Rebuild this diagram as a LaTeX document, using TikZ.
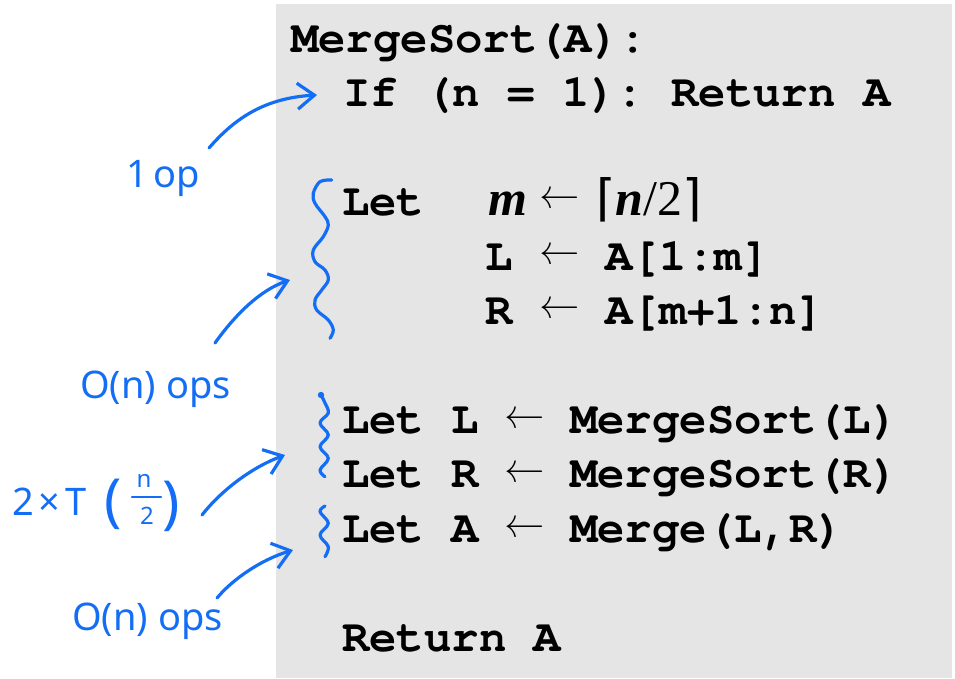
\documentclass[tikz,border=0pt]{standalone}
\usepackage{fontspec}
\newfontfamily\handfont{Noto Sans}
\newfontfamily\dejavu{DejaVu Sans}
\newfontfamily\tnr{Liberation Serif}
\IfFontExistsTF{TeX Gyre Cursor}{\newfontfamily\codeff{TeX Gyre Cursor}}{\newfontfamily\codeff{Liberation Mono}}
\usetikzlibrary{arrows.meta}
\definecolor{handblue}{RGB}{20,110,245}
\definecolor{codebg}{RGB}{229,229,229}
\newcommand\codefont{\frenchspacing\codeff\bfseries\fontsize{45.6}{50}\selectfont}
\newcommand\smallhand{\handfont\fontsize{24}{24}\selectfont}
\begin{document}
\begin{tikzpicture}[x=1pt,y=-1pt,
  code/.style={anchor=base west, inner sep=0pt, font=\codefont},
  arr/.style={anchor=base west, inner sep=0pt, font=\fontsize{43}{43}\selectfont},
  mth/.style={anchor=base west, inner sep=0pt, font=\tnr\fontsize{50}{50}\selectfont},
  hand/.style={anchor=base west, inner sep=0pt, text=handblue, font=\handfont\fontsize{38}{38}\selectfont},
  paren/.style={anchor=base west, inner sep=0pt, text=handblue, font=\handfont\fontsize{58}{58}\selectfont},
  frac/.style={anchor=center, inner sep=0pt, text=handblue, font=\smallhand},
  stroke/.style={draw=handblue, line width=3.2pt, line cap=round, line join=round},
  pointer/.style={stroke, -{Straight Barb[length=17pt,width=26pt]}}
]
\useasboundingbox (0,0) rectangle (955,678);
\fill[codebg] (276,4) rectangle (952,678);

% code
\node[code] (l0) at (291,52) {MergeSort(A):};
\node[code] (l1) at (343,106.5) {If (n = 1): Return A};
\node[code] (l3) at (342,215) {Let};
\node[mth] (m) at (488,215) {\bfseries\itshape m};
\node[arr] (a3) at (539,208) {←};
\node[mth] (ceil) at (596,215) {{\dejavu ⌈}{\bfseries\itshape n}/2{\dejavu ⌉}};
\node[code] (l4a) at (485,270) {L};
\node[arr] (a4) at (539,264) {←};
\node[code] (l4b) at (605,270) {A[1:m]};
\node[code] (l5a) at (485,324.5) {R};
\node[arr] (a5) at (539,318) {←};
\node[code] (l5b) at (605,324.5) {A[m+1:n]};
\node[code] (l7a) at (342,433) {Let L};
\node[arr] (a7) at (504,428) {←};
\node[code] (l7b) at (570,433) {MergeSort(L)};
\node[code] (l8a) at (342,487.5) {Let R};
\node[arr] (a8) at (504,482.5) {←};
\node[code] (l8b) at (570,487.5) {MergeSort(R)};
\node[code] (l9a) at (342,542) {Let A};
\node[arr] (a9) at (504,537) {←};
\node[code] (l9b) at (570,542) {Merge(L,R)};
\node[code] (l11) at (342,651) {Return A};

% handwritten notes
\node[hand] (h1) at (126,187) {1\hspace{6pt}op};
\node[hand] (h2) at (80,398) {O(n) ops};
\node[hand] (h3) at (12,515) {2\hspace{5pt}×\hspace{5pt}T};
\node[paren] (h3l) at (104,520) {(};
\node[frac] (h3n) at (144,481) {n};
\node[frac] (h3d) at (147,516) {2};
\coordinate (fb1) at (132,497);
\coordinate (fb2) at (161,497);
\draw[stroke, line width=2.6pt] (fb1) -- (fb2);
\node[paren] (h3r) at (162,522) {)};
\node[hand] (h4) at (72,630) {O(n) ops};

% braces
\draw[stroke] plot[smooth, tension=0.6] coordinates {(331.7,180) (320,181.7) (313.3,193.3) (315,203.3) (325,216.7) (328.3,225) (323.3,236.7) (313.3,250) (315,261.7) (325,270) (328.3,280) (321.7,290) (315,300) (316.7,310) (328.3,320) (333.3,330) (330,338.3)};
\fill[handblue] (321,395) circle (3.2);
\draw[stroke] plot[smooth, tension=0.6] coordinates {(321,395) (325,403) (328.3,413) (320,423) (328.3,435) (320,446.7) (328.3,458.3) (320,470) (325,476.7)};
\draw[stroke] plot[smooth, tension=0.6] coordinates {(325,506) (320,511.7) (328.3,523.3) (320,535) (328.3,546.7) (325,556.7)};

% pointers
\coordinate (s1) at (209,148);
\coordinate (e1) at (317,95);
\coordinate (s2) at (215,343);
\coordinate (e2) at (290,280);
\coordinate (s3) at (202,515);
\coordinate (e3) at (285,455);
\coordinate (s4) at (217,598);
\coordinate (e4) at (293,550);
\draw[pointer] (s1) .. controls (235,118) and (265,98) .. (e1);
\draw[pointer] (s2) .. controls (235,315) and (260,290) .. (e2);
\draw[pointer] (s3) .. controls (220,492) and (250,468) .. (e3);
\draw[pointer] (s4) .. controls (232,580) and (260,560) .. (e4);
\end{tikzpicture}
\end{document}
